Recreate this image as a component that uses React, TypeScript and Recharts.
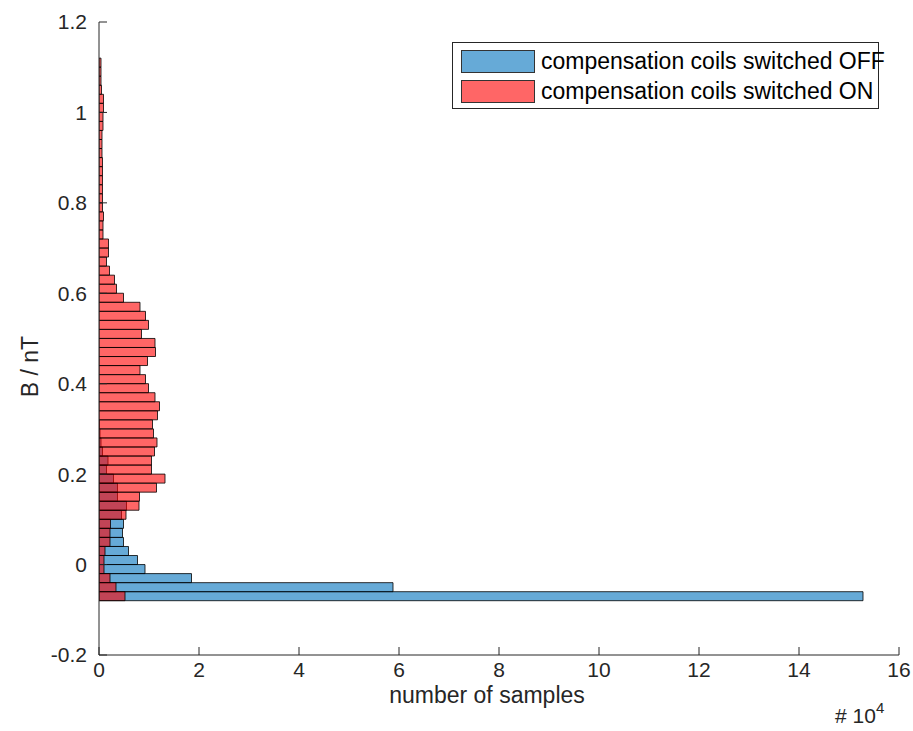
import React from 'react';
import { BarChart, Bar, XAxis, YAxis, Legend } from 'recharts';

// histogram bin centres, B / nT (bin width 0.02)
const binCenters = [
  -0.07, -0.05, -0.03, -0.01, 0.01, 0.03, 0.05, 0.07, 0.09, 0.11,
  0.13, 0.15, 0.17, 0.19, 0.21, 0.23, 0.25, 0.27, 0.29, 0.31,
  0.33, 0.35, 0.37, 0.39, 0.41, 0.43, 0.45, 0.47, 0.49, 0.51,
  0.53, 0.55, 0.57, 0.59, 0.61, 0.63, 0.65, 0.67, 0.69, 0.71,
  0.73, 0.75, 0.77, 0.79, 0.81, 0.83, 0.85, 0.87, 0.89, 0.91,
  0.93, 0.95, 0.97, 0.99, 1.01, 1.03, 1.05, 1.07, 1.09, 1.11,
];

// number of samples (x 10^4), coils switched OFF
const samplesOff = [
  15.28, 5.88, 1.85, 0.92, 0.77, 0.59, 0.49, 0.47, 0.49, 0.45,
  0.55, 0.37, 0.37, 0.29, 0.15, 0.18, 0.07, 0.04, 0.02, 0.01,
  0, 0, 0, 0, 0, 0, 0, 0, 0, 0,
  0, 0, 0, 0, 0, 0, 0, 0, 0, 0,
  0, 0, 0, 0, 0, 0, 0, 0, 0, 0,
  0, 0, 0, 0, 0, 0, 0, 0, 0, 0,
];

// number of samples (x 10^4), coils switched ON
const samplesOn = [
  0.52, 0.34, 0.22, 0.1, 0.1, 0.12, 0.22, 0.22, 0.23, 0.54,
  0.8, 0.81, 1.15, 1.32, 1.05, 1.05, 1.11, 1.16, 1.09, 1.07,
  1.17, 1.21, 1.12, 0.99, 0.93, 0.82, 0.97, 1.13, 1.12, 0.85,
  0.99, 0.93, 0.82, 0.49, 0.35, 0.31, 0.21, 0.15, 0.19, 0.19,
  0.08, 0.08, 0.09, 0.07, 0.07, 0.07, 0.07, 0.07, 0.07, 0.06,
  0.06, 0.06, 0.08, 0.08, 0.09, 0.09, 0.05, 0.04, 0.04, 0.04,
];

const xTicks = [0, 2, 4, 6, 8, 10, 12, 14, 16];
const yTicks = [-0.2, 0, 0.2, 0.4, 0.6, 0.8, 1, 1.2];

const legendItems = [
  { label: 'compensation coils switched OFF', color: 'rgb(102,170,215)' },
  { label: 'compensation coils switched ON', color: 'rgb(255,102,102)' },
];

const data = binCenters.map((b, i) => ({ b, off: samplesOff[i], on: samplesOn[i] }));

const AXIS = '#262626';
const FONT = '"Liberation Sans", Arial, Helvetica, sans-serif';
const tickStyle = { fill: AXIS, fontSize: 21, fontFamily: FONT };

const LegendBox = () => (
  <div
    style={{
      width: 427,
      height: 67,
      boxSizing: 'border-box',
      border: `1px solid ${AXIS}`,
      background: '#fff',
      fontFamily: FONT,
      fontSize: 23,
      color: '#000',
      position: 'relative',
    }}
  >
    {legendItems.map((it, i) => (
      <div
        key={it.label}
        style={{
          position: 'absolute',
          left: 8,
          top: 6 + i * 30,
          height: 24,
          display: 'flex',
          alignItems: 'center',
          whiteSpace: 'nowrap',
        }}
      >
        <span
          style={{
            display: 'inline-block',
            width: 74,
            height: 23,
            boxSizing: 'border-box',
            background: it.color,
            border: '1px solid #333',
            marginRight: 6,
          }}
        />
        <span>{it.label}</span>
      </div>
    ))}
  </div>
);

const XLabel = (props: any) => {
  const { x, y, width } = props.viewBox;
  return (
    <g fontFamily={FONT} fill={AXIS}>
      <text x={x + width / 2 - 12} y={y + 48} textAnchor="middle" fontSize={23}>
        number of samples
      </text>
      <text x={x + width - 64} y={y + 68} fontSize={21}>
        # 10
        <tspan dy={-10} fontSize={15}>4</tspan>
      </text>
    </g>
  );
};

const YLabel = (props: any) => {
  const { y, height } = props.viewBox;
  const cy = y + height / 2 + 28;
  return (
    <text
      x={38}
      y={cy}
      transform={`rotate(-90 38 ${cy})`}
      textAnchor="middle"
      fontSize={23}
      fontFamily={FONT}
      fill={AXIS}
    >
      B / nT
    </text>
  );
};

export default function App() {
  return (
    <div style={{ position: 'absolute', left: 0, top: 0, background: '#fff' }}>
      <BarChart
        width={913}
        height={731}
        data={data}
        layout="vertical"
        margin={{ top: 22, right: 14, left: 0, bottom: 0 }}
        barCategoryGap={0}
        barGap="-100%"
      >
        <XAxis
          type="number"
          domain={[0, 16]}
          ticks={xTicks}
          interval={0}
          height={76}
          tickSize={-8}
          tickMargin={15}
          axisLine={{ stroke: AXIS }}
          tickLine={{ stroke: AXIS }}
          tick={tickStyle}
          label={{ content: XLabel }}
          allowDataOverflow
        />
        <XAxis
          xAxisId="top"
          orientation="top"
          type="number"
          domain={[0, 16]}
          ticks={xTicks}
          interval={0}
          height={0}
          tickSize={-8}
          axisLine={{ stroke: AXIS }}
          tickLine={{ stroke: AXIS }}
          tick={false}
          allowDataOverflow
        />
        <YAxis
          type="number"
          dataKey="b"
          domain={[-0.2, 1.2]}
          ticks={yTicks}
          interval={0}
          reversed
          width={99}
          tickSize={-8}
          tickMargin={20}
          axisLine={{ stroke: AXIS }}
          tickLine={{ stroke: AXIS }}
          tick={tickStyle}
          label={{ content: YLabel }}
          allowDataOverflow
        />
        <YAxis
          yAxisId="right"
          orientation="right"
          type="number"
          domain={[-0.2, 1.2]}
          ticks={yTicks}
          interval={0}
          reversed
          width={0}
          tickSize={-8}
          axisLine={{ stroke: AXIS }}
          tickLine={{ stroke: AXIS }}
          tick={false}
          allowDataOverflow
        />
        <Legend
          layout="horizontal"
          verticalAlign="middle"
          align="center"
          content={() => <LegendBox />}
          wrapperStyle={{ left: 452, top: 42, width: 427, height: 67 }}
        />
        <Bar
          dataKey="off"
          fill="#0072BD"
          fillOpacity={0.6}
          stroke="#000"
          strokeOpacity={0.8}
          strokeWidth={1}
          isAnimationActive={false}
        />
        <Bar
          dataKey="on"
          fill="#FF0000"
          fillOpacity={0.6}
          stroke="#000"
          strokeOpacity={0.8}
          strokeWidth={1}
          isAnimationActive={false}
        />
      </BarChart>
    </div>
  );
}
